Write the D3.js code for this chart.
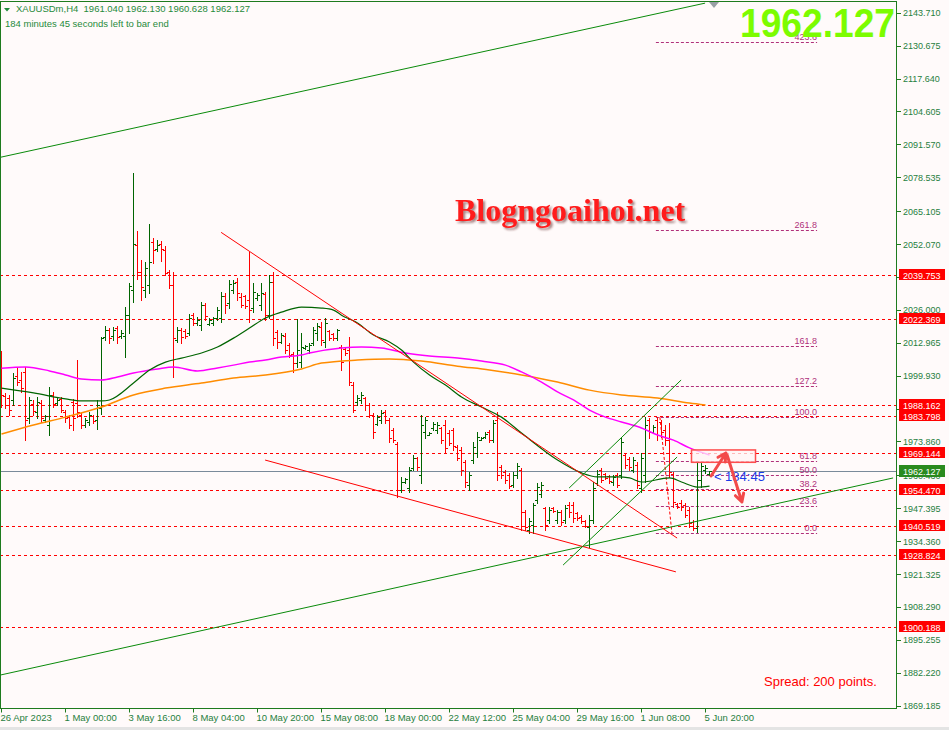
<!DOCTYPE html>
<html><head><meta charset="utf-8">
<script src="https://cdn.jsdelivr.net/npm/d3@7"></script>
<style>
html,body{margin:0;padding:0;background:#fffafa;}
svg{display:block;}
</style></head><body>
<svg id="chart" width="949" height="730"></svg>
<script>
// ---------------- DATA ----------------
const symbolTitle = "XAUUSDm,H4  1961.040 1962.130 1960.628 1962.127";
const timerLine = "184 minutes 45 seconds left to bar end";
const timeLabels = ["26 Apr 2023","1 May 00:00","3 May 16:00","8 May 04:00","10 May 20:00","15 May 08:00","18 May 00:00","22 May 12:00","25 May 04:00","29 May 16:00","1 Jun 08:00","5 Jun 20:00"];
const timeLabelBars = [0,16,32,48,64,80,96,112,128,144,160,176];
const priceTicks = [2143.710,2130.675,2117.640,2104.605,2091.570,2078.535,2065.105,2052.070,2039.035,2026.000,2012.965,1999.930,1986.895,1973.860,1960.430,1947.395,1934.360,1921.325,1908.290,1895.255,1882.220,1869.185];
const levelPrices = [2039.753,2022.369,1988.162,1983.798,1969.144,1954.470,1940.519,1928.824,1900.188];
const currentPrice = 1962.127;

const opens  = [2004.1,1991.9,1991.1,1990.3,1999.8,1998.2,2001.4,1983.2,1988.7,1985.5,1989.1,1982.4,1980.4,1992.3,1989.1,1990.7,1985.5,1983.5,1989.5,1989.1,1984.3,1980.4,1981.6,1983.9,1982.4,1987.1,2015.2,2018.0,2015.6,2018.8,2015.6,2015.6,2023.9,2033.9,2051.7,2041.0,2033.9,2035.8,2052.9,2050.1,2052.1,2049.7,2041.0,2035.8,2014.1,2018.0,2017.6,2016.8,2023.9,2020.8,2020.0,2027.9,2020.4,2020.8,2022.8,2022.8,2031.5,2028.7,2033.9,2037.0,2031.1,2031.5,2029.9,2026.7,2030.7,2027.9,2032.3,2023.9,2037.0,2017.2,2013.3,2015.6,2012.1,2008.5,2004.9,2005.3,2010.9,2010.1,2012.9,2016.8,2019.2,2013.3,2017.6,2016.4,2014.8,2011.3,2010.5,2010.1,1996.2,1989.5,1990.3,1991.1,1988.3,1984.3,1980.8,1982.4,1985.5,1982.4,1978.4,1972.8,1954.6,1957.8,1955.4,1963.3,1967.3,1960.6,1977.6,1976.4,1979.2,1978.4,1979.2,1980.4,1977.2,1978.4,1971.7,1970.5,1965.7,1956.6,1966.5,1969.3,1974.4,1975.6,1977.6,1974.4,1982.4,1963.7,1961.7,1960.6,1956.6,1960.6,1962.5,1945.9,1938.8,1940.8,1950.7,1953.0,1947.5,1942.7,1947.5,1942.7,1945.9,1942.7,1948.7,1948.7,1945.5,1943.9,1942.4,1940.0,1942.7,1957.4,1962.5,1961.0,1960.2,1957.8,1960.6,1960.6,1968.5,1966.9,1962.5,1964.5,1955.4,1960.6,1982.4,1977.6,1982.4,1981.6,1978.4,1974.4,1960.9,1949.1,1949.5,1948.7,1946.7,1942.0,1939.6,1958.6,1962.5,1961.04];
const highs  = [2009.7,1993.1,1992.3,2001.0,2003.4,2001.4,2003.4,1991.5,1990.3,1991.5,1990.3,1984.3,1995.4,1993.5,1991.1,1991.5,1986.3,1984.3,1990.7,2006.1,1985.1,1983.2,1985.5,1984.3,1990.3,2015.2,2019.6,2018.8,2019.2,2019.6,2018.0,2027.1,2036.6,2080.2,2057.2,2045.7,2044.9,2060.0,2054.5,2053.7,2053.3,2051.3,2041.8,2041.0,2019.2,2018.8,2018.4,2024.3,2024.7,2023.2,2029.1,2028.7,2022.8,2023.2,2027.1,2033.1,2032.7,2037.8,2037.8,2038.6,2032.7,2031.9,2048.9,2036.6,2032.7,2036.6,2033.1,2039.8,2041.0,2018.0,2016.8,2016.8,2012.9,2009.3,2022.4,2016.8,2012.1,2012.9,2019.2,2020.8,2021.2,2022.8,2018.0,2016.8,2018.4,2012.1,2010.9,2015.2,1997.4,1992.3,1993.5,1991.5,1989.1,1985.1,1984.3,1986.3,1986.3,1983.2,1979.2,1973.6,1959.8,1959.4,1963.7,1968.5,1967.7,1984.3,1983.5,1977.6,1981.6,1981.6,1979.6,1982.4,1978.4,1979.2,1972.5,1971.7,1966.5,1961.7,1973.6,1977.6,1975.6,1977.6,1978.4,1982.4,1985.5,1964.5,1962.5,1961.4,1961.7,1965.3,1963.3,1946.7,1943.5,1949.5,1957.4,1957.8,1947.9,1947.9,1947.9,1946.7,1946.7,1948.7,1949.9,1949.9,1945.9,1944.7,1942.7,1944.7,1957.8,1962.5,1963.3,1961.4,1960.6,1960.6,1961.4,1975.2,1969.3,1967.7,1967.7,1965.7,1969.3,1983.5,1983.2,1980.4,1983.5,1982.4,1980.4,1981.2,1961.7,1949.5,1950.7,1949.5,1947.9,1942.7,1965.7,1965.3,1964.5,1962.13];
const lows   = [1987.5,1987.1,1984.3,1988.3,1996.2,1993.5,1974.4,1981.2,1984.3,1983.2,1981.6,1981.6,1976.4,1987.5,1988.3,1985.5,1981.6,1979.2,1978.4,1983.5,1979.2,1979.6,1980.4,1981.2,1978.8,1984.7,2014.1,2012.9,2014.1,2012.9,2014.8,2007.3,2016.8,2029.1,2038.2,2029.9,2031.1,2032.7,2044.5,2049.3,2045.3,2039.8,2034.7,1999.4,2013.3,2012.9,2014.8,2016.0,2020.0,2020.0,2018.0,2022.0,2020.0,2020.0,2022.0,2021.2,2024.7,2026.7,2032.7,2029.9,2027.1,2026.7,2021.2,2025.1,2029.9,2025.9,2022.0,2022.8,2012.1,2010.9,2012.9,2008.9,2007.3,2001.4,2003.4,2003.4,2010.5,2008.9,2012.1,2014.1,2012.1,2011.3,2014.1,2014.1,2014.1,2002.2,2008.1,1996.2,1985.5,1988.3,1989.1,1986.3,1983.5,1975.2,1980.4,1981.2,1981.2,1973.6,1973.6,1951.9,1953.8,1957.4,1953.8,1962.5,1962.5,1957.4,1975.2,1976.4,1978.4,1977.2,1973.2,1969.7,1972.5,1970.5,1966.5,1960.6,1955.8,1954.6,1965.3,1967.7,1974.4,1975.2,1973.6,1973.6,1958.6,1959.4,1957.4,1955.4,1955.8,1959.4,1938.8,1938.8,1937.6,1937.6,1949.5,1951.9,1938.8,1941.6,1945.9,1941.6,1940.8,1941.6,1943.9,1942.0,1942.7,1941.6,1940.0,1932.0,1941.6,1956.6,1957.8,1959.0,1957.4,1956.6,1955.8,1959.4,1963.3,1962.5,1961.7,1955.4,1953.8,1957.8,1975.2,1977.2,1974.4,1975.6,1972.5,1959.8,1947.9,1947.5,1946.7,1943.9,1940.0,1938.8,1938.0,1955.8,1961.4,1960.628];
const closes = [1992.3,1988.3,1986.3,1999.0,1997.4,1995.0,1982.4,1990.3,1985.9,1989.5,1983.2,1983.9,1992.3,1988.7,1990.3,1986.3,1983.2,1980.4,1983.2,1985.5,1980.4,1982.4,1984.3,1982.0,1988.3,2014.8,2018.0,2014.8,2018.0,2015.2,2016.8,2023.9,2035.4,2052.1,2041.0,2035.0,2042.6,2045.0,2049.7,2051.7,2050.1,2040.6,2035.8,2014.8,2018.0,2015.2,2015.6,2022.8,2020.8,2022.0,2027.9,2023.5,2022.0,2022.8,2025.9,2031.5,2027.9,2036.2,2036.6,2032.7,2027.9,2027.5,2025.9,2033.1,2031.9,2032.7,2023.9,2037.0,2014.8,2013.3,2016.0,2010.1,2008.1,2004.9,2010.1,2011.3,2011.7,2012.1,2018.0,2019.6,2014.1,2020.8,2014.8,2014.8,2018.0,2005.3,2008.9,1997.4,1986.3,1991.1,1992.3,1988.3,1984.3,1977.6,1983.5,1985.1,1982.4,1975.2,1974.4,1954.6,1957.8,1959.0,1962.5,1967.3,1963.7,1980.4,1982.4,1977.2,1980.8,1980.4,1974.4,1971.3,1973.2,1972.1,1967.3,1962.5,1957.8,1960.6,1971.7,1975.6,1975.2,1976.8,1974.4,1981.2,1960.6,1960.6,1958.6,1956.2,1960.6,1964.1,1945.9,1940.0,1942.4,1948.7,1955.8,1956.6,1940.8,1946.7,1946.3,1945.9,1942.0,1947.5,1945.9,1943.5,1943.5,1942.4,1940.4,1942.7,1955.4,1961.0,1958.6,1959.4,1958.2,1959.8,1956.6,1973.6,1964.5,1963.7,1966.5,1956.6,1967.3,1980.4,1977.6,1979.6,1976.4,1977.6,1974.4,1961.7,1949.9,1947.9,1947.9,1944.7,1941.6,1939.6,1958.6,1964.1,1963.3,1962.127];

// moving averages (bar index, value)
const maFastBars   = [0,8,16,20,25,27,33,37,41,45,50,54,58,62,66,70,75,80,83,85,89,93,97,100,103,107,111,115,120,125,130,139,145,149,154,157,160,167,170,174,177];
const maFastValues = [1995.0,1993.1,1990.7,1989.9,1989.9,1990.3,1997.0,2002.2,2005.3,2006.9,2008.9,2011.3,2014.8,2018.8,2022.8,2025.1,2027.1,2026.7,2025.9,2023.9,2020.8,2016.0,2013.3,2010.1,2005.3,2000.2,1996.2,1991.5,1987.5,1983.5,1977.2,1966.5,1961.4,1959.8,1959.8,1959.4,1957.8,1959.4,1957.8,1955.8,1956.2];
const maMidBars    = [0,6,12,16,20,25,29,33,39,43,49,54,58,62,66,70,75,77,85,90,95,101,107,114,120,126,130,135,139,143,147,151,155,160,164,168,172,177];
const maMidValues  = [2002.9,2003.4,2001.8,2000.2,1998.6,1998.2,1999.4,2001.0,2002.6,2003.4,2001.8,2003.0,2004.1,2005.3,2006.1,2007.3,2008.1,2008.9,2010.9,2011.3,2010.9,2008.9,2007.7,2006.9,2005.7,2004.1,2001.4,1997.4,1993.5,1990.3,1986.3,1983.5,1981.6,1979.2,1976.4,1974.4,1971.3,1968.5];
const maSlowBars   = [0,8,16,25,33,41,50,58,66,75,80,89,97,105,114,122,130,139,147,155,164,172,176];
const maSlowValues = [1976.8,1980.4,1983.5,1987.5,1992.3,1995.0,1997.0,1999.0,2000.2,2002.6,2004.9,2006.1,2006.5,2005.7,2003.7,2002.2,2000.2,1997.4,1994.2,1992.3,1991.1,1989.1,1988.3];

// drawn objects: [bar1, price1, bar2, price2]
const channelTop    = [-0.375, 2086.4, 175.9, 2147.5];
const channelBottom = [-0.375, 1881.3, 222.9, 1959.4];
const redUpper      = [54.9, 2056.7, 168.9, 1935.6];
const redLower      = [65.9, 1966.5, 168.6, 1922.2];
const greenUpA      = [141.9, 1955.4, 169.9, 1998.2];
const greenUpB      = [140.4, 1924.9, 168.9, 1967.7];
const fibBase       = [164.6, 1983.5, 167.6, 1937.6];
const fibLevels     = [0, 23.6, 38.2, 50.0, 61.8, 100.0, 127.2, 161.8, 261.8, 423.6];
const fibLabels     = ["0.0","23.6","38.2","50.0","61.8","100.0","127.2","161.8","261.8","423.6"];
const fibLow = 1937.6, fibHigh = 1983.5, fibStartBar = 163.6, fibEndBar = 203.9;
const zoneBox       = [172.5, 1970.5, 188.5, 1965.6];
const arrowUp       = [177.4, 1960.2, 181.1, 1969.3];
const arrowDown     = [181.4, 1968.5, 185.1, 1949.9];

// ---------------- DRAW ----------------
const W = 949, H = 730;
const PR = 896.5, PB = 708.5, PT = 1.5, PL = 0.5;
const SANS = '"Liberation Sans", Arial, sans-serif';
const SERIF = '"Liberation Serif", "Times New Roman", serif';
const x = d3.scaleLinear().domain([0, 223.75]).range([1.5, 896.5]);
const y = d3.scaleLinear().domain([1869.185, 2143.710]).range([705.7, 12.7]);

const svg = d3.select('#chart');
const defs = svg.append('defs');
defs.append('clipPath').attr('id', 'clip')
  .append('rect').attr('x', 1).attr('y', 2).attr('width', PR - 1).attr('height', PB - 2);
const flt = defs.append('filter').attr('id', 'shadow').attr('x', '-5%').attr('y', '-20%').attr('width', '110%').attr('height', '150%');
flt.append('feDropShadow').attr('dx', 2).attr('dy', 2).attr('stdDeviation', 0.8)
  .attr('flood-color', '#5a2020').attr('flood-opacity', 0.55);

svg.append('rect').attr('width', W).attr('height', H).attr('fill', '#fffafa');
svg.append('rect').attr('x', 0).attr('y', 727).attr('width', W).attr('height', 3).attr('fill', '#e4e4e4');

const g = svg.append('g').attr('clip-path', 'url(#clip)');
const crisp = v => Math.round(v) + 0.5;

// big price (behind objects)
svg.append('text').attr('x', 895).attr('y', 37).attr('text-anchor', 'end')
  .style('font-family', SANS).style('font-weight', 'bold').style('font-size', '40px')
  .attr('fill', '#7cfc00').attr('textLength', 155).attr('lengthAdjust', 'spacingAndGlyphs')
  .text(currentPrice.toFixed(3));

// current price line
g.append('line').attr('x1', 0).attr('x2', PR).attr('y1', crisp(y(currentPrice))).attr('y2', crisp(y(currentPrice)))
  .attr('stroke', '#7a8a9a').attr('stroke-width', 1);

// horizontal levels
g.selectAll('.lvl').data(levelPrices).join('line').attr('class', 'lvl')
  .attr('x1', 0).attr('x2', PR + 4)
  .attr('y1', d => crisp(y(d))).attr('y2', d => crisp(y(d)))
  .attr('stroke', '#ff0000').attr('stroke-width', 1).attr('stroke-dasharray', '3,3');

// fibonacci
const fibPrice = l => fibLow + (fibHigh - fibLow) * l / 100;
g.selectAll('.fib').data(fibLevels).join('line').attr('class', 'fib')
  .attr('x1', x(fibStartBar)).attr('x2', x(fibEndBar))
  .attr('y1', d => crisp(y(fibPrice(d)))).attr('y2', d => crisp(y(fibPrice(d))))
  .attr('stroke', '#b0307a').attr('stroke-width', 1).attr('stroke-dasharray', '3,2');
g.append('line').attr('x1', x(fibBase[0])).attr('y1', y(fibBase[1])).attr('x2', x(fibBase[2])).attr('y2', y(fibBase[3]))
  .attr('stroke', '#ff0000').attr('stroke-dasharray', '3,2');

// bars
const idx = d3.range(opens.length);
const barCol = i => closes[i] >= opens[i] ? '#006400' : '#ff0000';
const bg = g.append('g').attr('shape-rendering', 'crispEdges');
bg.selectAll('.hl').data(idx).join('rect').attr('class', 'hl')
  .attr('x', i => Math.floor(x(i))).attr('y', i => Math.round(y(highs[i])))
  .attr('width', 1).attr('height', i => Math.max(1, Math.round(y(lows[i])) - Math.round(y(highs[i])) + 1))
  .attr('fill', barCol);
bg.selectAll('.op').data(idx).join('rect').attr('class', 'op')
  .attr('x', i => Math.floor(x(i)) - 2).attr('y', i => Math.round(y(opens[i])))
  .attr('width', 2).attr('height', 1).attr('fill', barCol);
bg.selectAll('.cl').data(idx).join('rect').attr('class', 'cl')
  .attr('x', i => Math.floor(x(i)) + 1).attr('y', i => Math.round(y(closes[i])))
  .attr('width', 2).attr('height', 1).attr('fill', barCol);

// moving averages
const maLine = d3.line().x(d => x(d[0])).y(d => y(d[1])).curve(d3.curveMonotoneX);
g.append('path').attr('d', maLine(d3.zip(maSlowBars, maSlowValues))).attr('fill', 'none').attr('stroke', '#ff8c00').attr('stroke-width', 1.5);
g.append('path').attr('d', maLine(d3.zip(maMidBars, maMidValues))).attr('fill', 'none').attr('stroke', '#ff00ff').attr('stroke-width', 1.5);
g.append('path').attr('d', maLine(d3.zip(maFastBars, maFastValues))).attr('fill', 'none').attr('stroke', '#006400').attr('stroke-width', 1.2);

// trend lines
function seg(l, col, w) {
  g.append('line').attr('x1', x(l[0])).attr('y1', y(l[1])).attr('x2', x(l[2])).attr('y2', y(l[3]))
    .attr('stroke', col).attr('stroke-width', w || 1);
}
seg(channelTop, '#0a8a0a');
seg(channelBottom, '#0a8a0a');
seg(redUpper, '#ff0000');
seg(redLower, '#ff0000');
seg(greenUpA, '#0a8a0a');
seg(greenUpB, '#0a8a0a');

// fib labels
g.selectAll('.fibt').data(fibLevels).join('text').attr('class', 'fibt')
  .attr('x', x(fibEndBar)).attr('y', d => Math.round(y(fibPrice(d))) - 2)
  .attr('text-anchor', 'end').style('font-family', SANS).style('font-size', '9px').attr('fill', '#b0307a')
  .text((d, i) => fibLabels[i]);

// zone rectangle
g.append('rect')
  .attr('x', x(zoneBox[0])).attr('y', y(zoneBox[1]))
  .attr('width', x(zoneBox[2]) - x(zoneBox[0])).attr('height', y(zoneBox[3]) - y(zoneBox[1]))
  .attr('fill', '#fff4f4').attr('fill-opacity', 0.75).attr('stroke', '#ff4d4d').attr('stroke-width', 1.5);

// timer text
g.append('text').attr('x', x(178.1)).attr('y', 481).style('font-family', SANS).style('font-size', '13px')
  .attr('fill', '#1a3ae8').text('< 184:45');

// arrows
function arrow(a) {
  const x1 = x(a[0]), y1 = y(a[1]), x2 = x(a[2]), y2 = y(a[3]);
  const ang = Math.atan2(y2 - y1, x2 - x1), L = 9;
  const p = d3.path();
  p.moveTo(x1, y1); p.lineTo(x2, y2);
  p.moveTo(x2 - L * Math.cos(ang - 0.5), y2 - L * Math.sin(ang - 0.5)); p.lineTo(x2, y2);
  p.lineTo(x2 - L * Math.cos(ang + 0.5), y2 - L * Math.sin(ang + 0.5));
  g.append('path').attr('d', p.toString()).attr('fill', 'none').attr('stroke', '#f24a4a')
    .attr('stroke-width', 3).attr('stroke-linecap', 'round').attr('stroke-linejoin', 'round');
}
arrow(arrowUp);
arrow(arrowDown);

// watermark / spread texts
g.append('text').attr('x', 455).attr('y', 221)
  .style('font-family', SERIF).style('font-weight', 'bold').style('font-size', '32px')
  .attr('fill', '#ff1e1e').attr('filter', 'url(#shadow)').text('Blogngoaihoi.net');
g.append('text').attr('x', 764).attr('y', 686).style('font-family', SANS).style('font-size', '13px')
  .attr('fill', '#ff0000').text('Spread: 200 points.');

// top marker triangle
svg.append('path').attr('d', d3.line()([[709, 2], [719, 2], [714, 8]]) + 'Z').attr('fill', '#9aa0a6');

// frame
svg.append('rect').attr('x', PL).attr('y', PT).attr('width', PR - PL).attr('height', PB - PT)
  .attr('fill', 'none').attr('stroke', '#1e7b1e').attr('stroke-width', 1).attr('shape-rendering', 'crispEdges');

// right axis
svg.append('g').attr('shape-rendering', 'crispEdges').selectAll('.pt').data(priceTicks).join('line').attr('class', 'pt')
  .attr('x1', PR).attr('x2', PR + 4).attr('y1', d => crisp(y(d))).attr('y2', d => crisp(y(d))).attr('stroke', '#1e7b1e');
svg.selectAll('.ptl').data(priceTicks).join('text').attr('class', 'ptl')
  .attr('x', 903).attr('y', d => y(d) + 3.5).style('font-family', SANS).style('font-size', '9px').attr('fill', '#1f8040')
  .text(d => d.toFixed(3));

// level labels
const lvlG = svg.append('g');
levelPrices.forEach(p => {
  const yy = Math.round(y(p));
  lvlG.append('rect').attr('x', 899).attr('y', yy - 6).attr('width', 46).attr('height', 11).attr('fill', '#ff0000');
  lvlG.append('text').attr('x', 903).attr('y', yy + 3.5).style('font-family', SANS).style('font-size', '9px')
    .attr('fill', '#ffffff').text(p.toFixed(3));
});
{
  const yy = Math.round(y(currentPrice));
  lvlG.append('rect').attr('x', 899).attr('y', yy - 6).attr('width', 46).attr('height', 12).attr('fill', '#2a8a1e');
  lvlG.append('text').attr('x', 903).attr('y', yy + 3.5).style('font-family', SANS).style('font-size', '9px')
    .attr('fill', '#ffffff').text(currentPrice.toFixed(3));
}

// bottom axis
svg.selectAll('.tt').data(timeLabelBars).join('line').attr('class', 'tt')
  .attr('x1', d => Math.floor(x(d)) + 0.5).attr('x2', d => Math.floor(x(d)) + 0.5)
  .attr('y1', PB).attr('y2', PB + 4).attr('stroke', '#1e7b1e');
svg.selectAll('.tl').data(timeLabelBars).join('text').attr('class', 'tl')
  .attr('x', d => x(d) - 1).attr('y', 720.5).style('font-family', SANS).style('font-size', '9.5px').attr('fill', '#1f8040')
  .text((d, i) => timeLabels[i]);

// header
svg.append('path').attr('d', 'M4,8L10,8L7,11.5Z').attr('fill', '#1f8a3a');
svg.append('text').attr('x', 16).attr('y', 12).style('font-family', SANS).style('font-size', '9.5px')
  .style('white-space', 'pre').attr('fill', '#1f8a3a').text(symbolTitle);
svg.append('text').attr('x', 5).attr('y', 26.5).style('font-family', SANS).style('font-size', '9.5px')
  .attr('fill', '#1f8a3a').text(timerLine);
</script>
</body></html>
